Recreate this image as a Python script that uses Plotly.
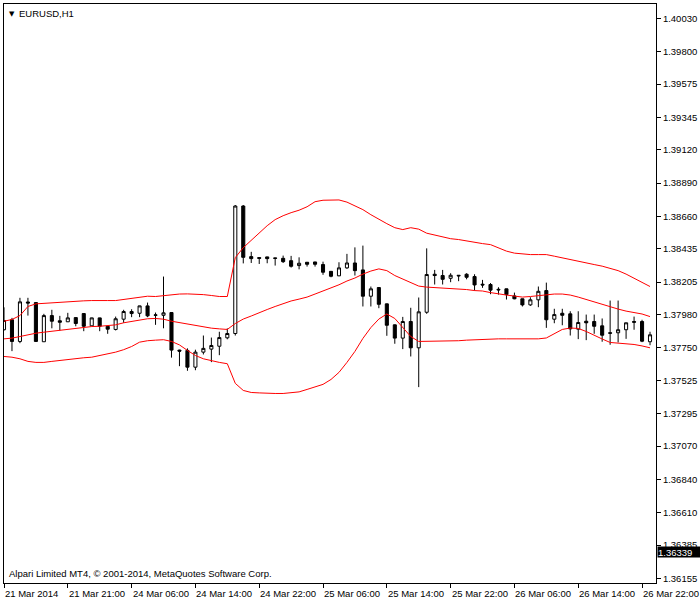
import plotly.graph_objects as go

# ---- data (EURUSD H1, bar index 0..81) ----
opens = [1.37875, 1.37944, 1.37794, 1.38067, 1.38063, 1.37792, 1.37973, 1.37937, 1.37930, 1.37959,
         1.37987, 1.37902, 1.37957, 1.37899, 1.37877, 1.37948, 1.38001, 1.37989, 1.38040, 1.37978,
         1.37975, 1.37994, 1.37734, 1.37732, 1.37616, 1.37720, 1.37741, 1.37761, 1.37819, 1.37849,
         1.38731, 1.38381, 1.38374, 1.38379, 1.38372, 1.38369, 1.38353, 1.38319, 1.38342, 1.38344,
         1.38326, 1.38279, 1.38248, 1.38303, 1.38337, 1.38289, 1.38107, 1.38167, 1.38054, 1.37909,
         1.37817, 1.37932, 1.37750, 1.37996, 1.38259, 1.38250, 1.38231, 1.38252, 1.38259, 1.38243,
         1.38190, 1.38188, 1.38155, 1.38158, 1.38109, 1.38089, 1.38047, 1.38082, 1.38146, 1.37948,
         1.37989, 1.37985, 1.37879, 1.37934, 1.37932, 1.37902, 1.37854, 1.37854, 1.37875, 1.37932,
         1.37932, 1.37792]
highs = [1.38030, 1.37957, 1.38096, 1.38096, 1.38065, 1.37985, 1.38013, 1.37971, 1.37992, 1.37960,
         1.37988, 1.37958, 1.37958, 1.37900, 1.37966, 1.38013, 1.38017, 1.38041, 1.38063, 1.37994,
         1.38243, 1.37995, 1.37737, 1.37746, 1.37737, 1.37835, 1.37821, 1.37861, 1.37884, 1.38738,
         1.38738, 1.38414, 1.38376, 1.38380, 1.38373, 1.38388, 1.38386, 1.38376, 1.38343, 1.38345,
         1.38346, 1.38281, 1.38342, 1.38400, 1.38445, 1.38457, 1.38174, 1.38169, 1.38056, 1.37911,
         1.37964, 1.38027, 1.38098, 1.38438, 1.38289, 1.38289, 1.38266, 1.38253, 1.38266, 1.38259,
         1.38220, 1.38198, 1.38169, 1.38159, 1.38132, 1.38090, 1.38100, 1.38174, 1.38201, 1.38020,
         1.38020, 1.38003, 1.38003, 1.37980, 1.37980, 1.37953, 1.38077, 1.38077, 1.37924, 1.37966,
         1.37944, 1.37861]
lows = [1.37870, 1.37727, 1.37782, 1.37973, 1.37792, 1.37792, 1.37885, 1.37870, 1.37929, 1.37899,
        1.37865, 1.37901, 1.37865, 1.37847, 1.37870, 1.37923, 1.37962, 1.37962, 1.37962, 1.37909,
        1.37885, 1.37682, 1.37623, 1.37591, 1.37595, 1.37704, 1.37651, 1.37699, 1.37809, 1.37835,
        1.38334, 1.38337, 1.38330, 1.38335, 1.38319, 1.38337, 1.38305, 1.38293, 1.38312, 1.38312,
        1.38255, 1.38238, 1.38246, 1.38296, 1.38250, 1.38036, 1.38036, 1.38024, 1.37833, 1.37778,
        1.37741, 1.37690, 1.37478, 1.37985, 1.38188, 1.38188, 1.38204, 1.38211, 1.38224, 1.38146,
        1.38165, 1.38121, 1.38118, 1.38084, 1.38086, 1.38036, 1.38040, 1.38031, 1.37888, 1.37920,
        1.37906, 1.37835, 1.37810, 1.37803, 1.37847, 1.37792, 1.37771, 1.37787, 1.37812, 1.37875,
        1.37789, 1.37768]
closes = [1.37939, 1.37794, 1.38068, 1.38060, 1.37794, 1.37973, 1.37934, 1.37927, 1.37957, 1.37918,
          1.37899, 1.37957, 1.37899, 1.37879, 1.37951, 1.38001, 1.37987, 1.38040, 1.37971, 1.37975,
          1.37992, 1.37734, 1.37727, 1.37616, 1.37720, 1.37746, 1.37766, 1.37821, 1.37849, 1.38731,
          1.38376, 1.38367, 1.38369, 1.38367, 1.38369, 1.38346, 1.38314, 1.38335, 1.38328, 1.38328,
          1.38273, 1.38245, 1.38303, 1.38337, 1.38284, 1.38107, 1.38158, 1.38051, 1.37906, 1.37817,
          1.37932, 1.37750, 1.37999, 1.38257, 1.38250, 1.38224, 1.38252, 1.38248, 1.38238, 1.38185,
          1.38185, 1.38149, 1.38151, 1.38118, 1.38089, 1.38047, 1.38082, 1.38141, 1.37944, 1.37980,
          1.37975, 1.37881, 1.37925, 1.37923, 1.37899, 1.37837, 1.37851, 1.37875, 1.37923, 1.37927,
          1.37796, 1.37840]

bb_upper = [1.37934, 1.37946, 1.37973, 1.38036, 1.38054, 1.38058, 1.38063, 1.38068, 1.38072, 1.38072,
            1.38075, 1.38077, 1.38079, 1.38077, 1.38077, 1.38084, 1.38091, 1.38100, 1.38107, 1.38105,
            1.38112, 1.38118, 1.38122, 1.38123, 1.38123, 1.38118, 1.38112, 1.38105, 1.38105, 1.38374,
            1.38443, 1.38492, 1.38547, 1.38595, 1.38637, 1.38664, 1.38685, 1.38702, 1.38726, 1.38761,
            1.38771, 1.38773, 1.38773, 1.38758, 1.38733, 1.38706, 1.38671, 1.38637, 1.38609, 1.38581,
            1.38568, 1.38581, 1.38571, 1.38543, 1.38530, 1.38516, 1.38505, 1.38499, 1.38488, 1.38478,
            1.38471, 1.38464, 1.38443, 1.38419, 1.38405, 1.38398, 1.38395, 1.38395, 1.38395, 1.38384,
            1.38372, 1.38357, 1.38346, 1.38336, 1.38326, 1.38315, 1.38302, 1.38284, 1.38260, 1.38232,
            1.38205, 1.38174]
bb_middle = [1.37812, 1.37817, 1.37828, 1.37842, 1.37851, 1.37858, 1.37865, 1.37870, 1.37879, 1.37884,
             1.37893, 1.37897, 1.37899, 1.37904, 1.37909, 1.37923, 1.37932, 1.37944, 1.37951, 1.37953,
             1.37948, 1.37934, 1.37925, 1.37916, 1.37902, 1.37893, 1.37886, 1.37881, 1.37877, 1.37918,
             1.37949, 1.37970, 1.37994, 1.38015, 1.38036, 1.38056, 1.38074, 1.38087, 1.38101, 1.38122,
             1.38143, 1.38160, 1.38186, 1.38212, 1.38233, 1.38260, 1.38281, 1.38296, 1.38284, 1.38250,
             1.38226, 1.38201, 1.38177, 1.38170, 1.38167, 1.38163, 1.38160, 1.38156, 1.38153, 1.38146,
             1.38143, 1.38132, 1.38122, 1.38115, 1.38108, 1.38101, 1.38105, 1.38112, 1.38118, 1.38122,
             1.38122, 1.38115, 1.38101, 1.38084, 1.38067, 1.38049, 1.38032, 1.38018, 1.38004, 1.37994,
             1.37984, 1.37966]
bb_lower = [1.37690, 1.37685, 1.37674, 1.37656, 1.37649, 1.37649, 1.37656, 1.37663, 1.37670, 1.37676,
            1.37681, 1.37685, 1.37697, 1.37704, 1.37720, 1.37737, 1.37759, 1.37789, 1.37799, 1.37803,
            1.37806, 1.37794, 1.37770, 1.37732, 1.37697, 1.37674, 1.37659, 1.37649, 1.37640, 1.37504,
            1.37455, 1.37441, 1.37438, 1.37434, 1.37434, 1.37434, 1.37438, 1.37445, 1.37462, 1.37479,
            1.37497, 1.37531, 1.37580, 1.37649, 1.37725, 1.37815, 1.37890, 1.37949, 1.37984, 1.37953,
            1.37893, 1.37828, 1.37794, 1.37794, 1.37794, 1.37796, 1.37797, 1.37799, 1.37803, 1.37806,
            1.37810, 1.37812, 1.37812, 1.37812, 1.37812, 1.37812, 1.37812, 1.37812, 1.37818, 1.37846,
            1.37877, 1.37887, 1.37884, 1.37863, 1.37835, 1.37811, 1.37787, 1.37784, 1.37780, 1.37773,
            1.37763, 1.37750]

price_ticks = [1.40030, 1.39800, 1.39575, 1.39345, 1.39120, 1.38890, 1.38660, 1.38435, 1.38205,
               1.37980, 1.37750, 1.37525, 1.37295, 1.37070, 1.36840, 1.36610, 1.36385, 1.36155]
price_tick_text = ["1.40030", "1.39800", "1.39575", "1.39345", "1.39120", "1.38890", "1.38660",
                   "1.38435", "1.38205", "1.37980", "1.37750", "1.37525", "1.37295", "1.37070",
                   "1.36840", "1.36610", "1.36385", "1.36155"]
time_tick_idx = [0, 8, 16, 24, 32, 40, 48, 56, 64, 72, 80]
time_tick_text = ["21 Mar 2014", "21 Mar 21:00", "24 Mar 06:00", "24 Mar 14:00", "24 Mar 22:00",
                  "25 Mar 06:00", "25 Mar 14:00", "25 Mar 22:00", "26 Mar 06:00", "26 Mar 14:00",
                  "26 Mar 22:00"]
current_price = 1.36339
current_price_text = "1.36339"
symbol_label = "EURUSD,H1"
copyright_text = "Alpari Limited MT4, © 2001-2014, MetaQuotes Software Corp."

bars = list(range(len(opens)))
FONT = "Liberation Sans, Arial, sans-serif"
FS = 9.5

fig = go.Figure()
for band in (bb_upper, bb_middle, bb_lower):
    fig.add_trace(go.Scatter(x=bars, y=band, mode="lines",
                             line=dict(color="#ff0000", width=1), hoverinfo="skip",
                             showlegend=False))
fig.add_trace(go.Candlestick(
    x=bars, open=opens, high=highs, low=lows, close=closes,
    increasing=dict(line=dict(color="black", width=1), fillcolor="white"),
    decreasing=dict(line=dict(color="black", width=1), fillcolor="black"),
    whiskerwidth=0, showlegend=False))

annotations = []
for i, t in zip(time_tick_idx, time_tick_text):
    annotations.append(dict(x=i, y=0, xref="x", yref="paper", text=t, showarrow=False,
                            xanchor="left", yanchor="top", xshift=-1, yshift=-3,
                            font=dict(family=FONT, size=FS, color="black")))
annotations.append(dict(x=1, y=current_price, xref="paper", yref="y", text=current_price_text,
                        showarrow=False, xanchor="left", yanchor="middle", xshift=1,
                        bgcolor="black", width=42, height=10, align="left", borderpad=0,
                        font=dict(family=FONT, size=FS, color="white")))
annotations.append(dict(x=0, y=1, xref="paper", yref="paper", text="▼", showarrow=False,
                        xanchor="left", yanchor="top", xshift=3, yshift=-4,
                        font=dict(family="DejaVu Sans", size=7, color="black")))
annotations.append(dict(x=0, y=1, xref="paper", yref="paper", text=symbol_label, showarrow=False,
                        xanchor="left", yanchor="top", xshift=13, yshift=-2,
                        font=dict(family=FONT, size=FS, color="black")))
annotations.append(dict(x=0, y=0, xref="paper", yref="paper", text=copyright_text, showarrow=False,
                        xanchor="left", yanchor="bottom", xshift=3, yshift=2,
                        font=dict(family=FONT, size=FS, color="black")))

fig.update_layout(
    width=700, height=600,
    margin=dict(l=3, r=43, t=3, b=17),
    paper_bgcolor="white", plot_bgcolor="white",
    showlegend=False, boxgap=0.45,
    annotations=annotations,
    xaxis=dict(range=[0, 81.75], showgrid=False, zeroline=False,
               showline=True, linecolor="black", linewidth=1, mirror=True,
               ticks="outside", ticklen=4, tickcolor="black", tickwidth=1,
               tickvals=time_tick_idx, showticklabels=False,
               rangeslider=dict(visible=False)),
    yaxis=dict(range=[1.361227, 1.401288], side="right", showgrid=False, zeroline=False,
               showline=True, linecolor="black", linewidth=1, mirror=True,
               ticks="outside", ticklen=4, tickcolor="black", tickwidth=1,
               tickvals=price_ticks, ticktext=price_tick_text,
               tickfont=dict(family=FONT, size=FS, color="black")),
)

fig.write_html("out.html", config={"displayModeBar": False},
               post_script="document.body.style.margin='0';")
